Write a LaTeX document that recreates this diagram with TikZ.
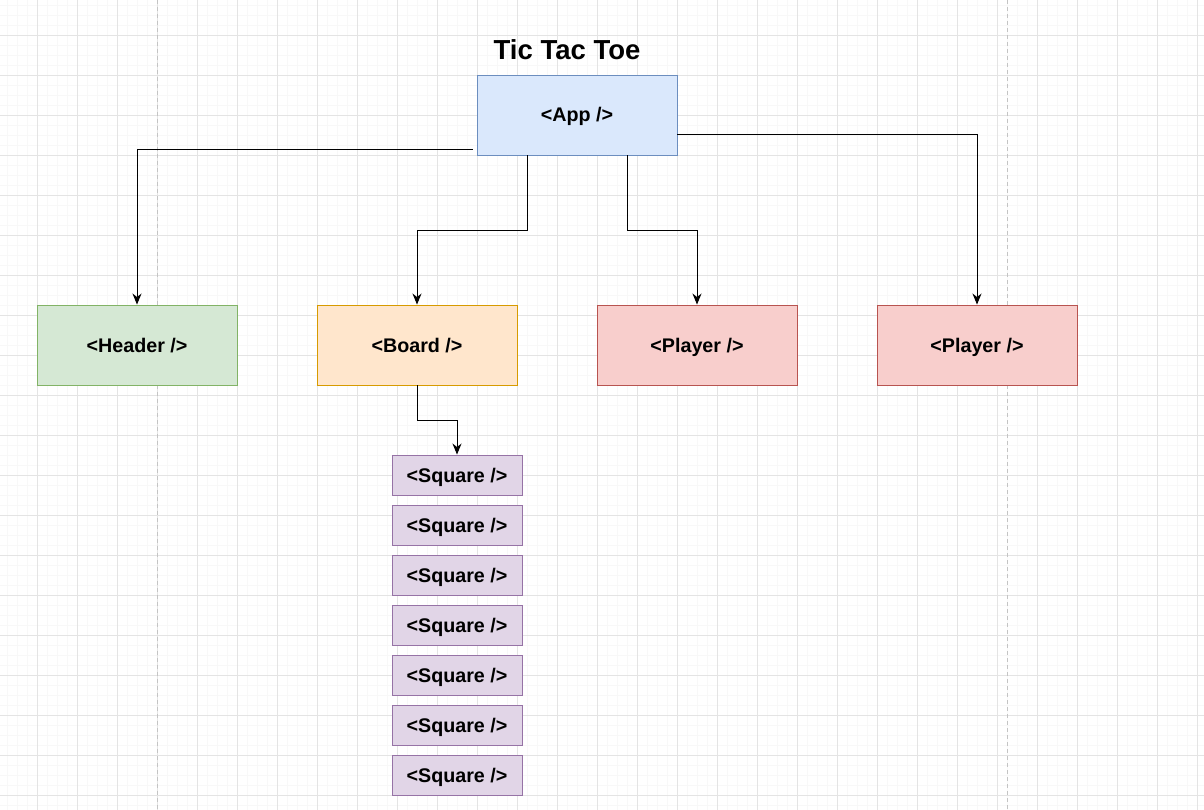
\documentclass[tikz,border=0pt]{standalone}
\usepackage{fontspec}
\setmainfont{Liberation Sans}
\usetikzlibrary{arrows.meta,calc}
\definecolor{gridminor}{HTML}{F8F8F8}
\definecolor{gridmajor}{HTML}{E4E4E4}
\definecolor{pagebreak}{HTML}{C4C4C4}
\definecolor{bluefill}{HTML}{DAE8FC}\definecolor{bluedraw}{HTML}{6C8EBF}
\definecolor{greenfill}{HTML}{D5E8D4}\definecolor{greendraw}{HTML}{82B366}
\definecolor{orangefill}{HTML}{FFE6CC}\definecolor{orangedraw}{HTML}{D79B00}
\definecolor{redfill}{HTML}{F8CECC}\definecolor{reddraw}{HTML}{B85450}
\definecolor{purplefill}{HTML}{E1D5E7}\definecolor{purpledraw}{HTML}{9673A6}
\tikzset{
  comp/.style={rectangle, draw, line width=0.9pt, inner sep=0pt,
    minimum width=200pt, minimum height=80pt,
    text height=14pt, text depth=0pt,
    font=\fontsize{19.7}{23}\selectfont\bfseries},
  sqbox/.style={comp, minimum width=130pt, minimum height=40pt,
    fill=purplefill, draw=purpledraw},
  conn/.style={line width=1pt, -{Stealth[length=11pt,width=9pt,inset=3.5pt]}},
}
\begin{document}
\begin{tikzpicture}[x=1pt,y=-1pt]
\useasboundingbox (0,0) rectangle (1204,810);
\fill[white] (0,0) rectangle (1204,810);
% grid
\foreach \x in {7.5,17.5,...,1204} \draw[gridminor,line width=0.8pt] (\x,0) -- (\x,810);
\foreach \y in {5,15,...,810} \draw[gridminor,line width=0.8pt] (0,\y) -- (1204,\y);
\foreach \x in {37.5,77.5,...,1204} \draw[gridmajor,line width=0.8pt] (\x,0) -- (\x,810);
\foreach \y in {35,75,...,810} \draw[gridmajor,line width=0.8pt] (0,\y) -- (1204,\y);
\draw[pagebreak,line width=0.9pt,dash pattern=on 4pt off 3pt] (157.5,0) -- (157.5,810);
\draw[pagebreak,line width=0.9pt,dash pattern=on 4pt off 3pt] (1007.5,0) -- (1007.5,810);
% title
\node[font=\fontsize{27.5}{32}\selectfont\bfseries, inner sep=0pt,
      text height=19.7pt, text depth=0pt] (title) at (567,49.7) {Tic Tac Toe};
% nodes
\node[comp, fill=bluefill, draw=bluedraw] (app) at (577,115) {<App />};
\node[comp, fill=greenfill, draw=greendraw] (header) at (137,345) {<Header />};
\node[comp, fill=orangefill, draw=orangedraw] (board) at (417,345) {<Board />};
\node[comp, fill=redfill, draw=reddraw] (p1) at (697,345) {<Player />};
\node[comp, fill=redfill, draw=reddraw] (p2) at (977,345) {<Player />};
\foreach \i in {1,...,7} {
  \node[sqbox] (sq\i) at (457,{475+50*(\i-1)}) {<Square />};
}
% connectors
\coordinate (hstart) at ($(app.south west)+(-4,-6)$);
\draw[conn] (hstart) -| (header.north);
\draw[conn] ([xshift=-50pt]app.south) -- ++(0,75) -| (board.north);
\draw[conn] ([xshift=50pt]app.south) -- ++(0,75) -| (p1.north);
\draw[conn] ([yshift=-20pt]app.east) -| (p2.north);
\draw[conn] (board.south) -- ++(0,35) -| (sq1.north);
\end{tikzpicture}
\end{document}
